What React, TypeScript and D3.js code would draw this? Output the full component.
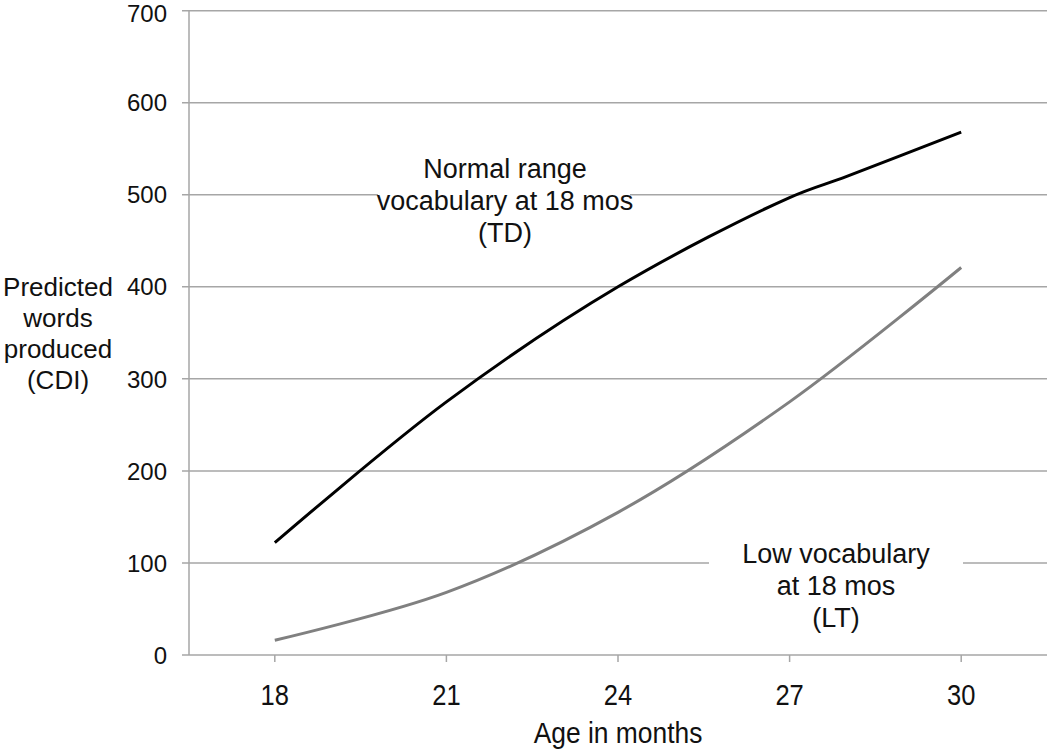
import React from "react";
import * as d3 from "d3";

const tdMonths = [18, 21, 24, 27, 28, 30];
const tdValues = [122, 275, 400, 497, 520, 568];
const ltMonths = [18, 21, 24, 27, 30];
const ltValues = [16, 68, 155, 275, 421];
const xTicks = [18, 21, 24, 27, 30];
const yTicks = [0, 100, 200, 300, 400, 500, 600, 700];
const tdLabel = ["Normal range", "vocabulary at 18 mos", "(TD)"];
const ltLabel = ["Low vocabulary", "at 18 mos", "(LT)"];
const yTitle = ["Predicted", "words", "produced", "(CDI)"];
const xTitle = "Age in months";

const W = 1050;
const H = 751;
const left = 189;
const right = 1047;
const top = 10.7;
const bottom = 655;

export default function App() {
  const x = d3.scaleLinear().domain([16.5, 31.5]).range([left, right]);
  const y = d3.scaleLinear().domain([0, 700]).range([bottom, top]);
  const line = d3
    .line<[number, number]>()
    .x((d) => x(d[0]))
    .y((d) => y(d[1]))
    .curve(d3.curveCatmullRom.alpha(0.5));
  const td = tdMonths.map((m, i) => [m, tdValues[i]] as [number, number]);
  const lt = ltMonths.map((m, i) => [m, ltValues[i]] as [number, number]);
  const font = "'Liberation Sans', Arial, sans-serif";
  const grid = "#a6a6a6";

  return (
    <div style={{ position: "absolute", left: 0, top: 0 }}>
      <svg width={W} height={H} style={{ display: "block", background: "#fff" }}>
        <rect x={0} y={0} width={W} height={H} fill="#fff" />
        {yTicks.map((t) => (
          <line
            key={"g" + t}
            x1={left - 7}
            x2={right}
            y1={y(t)}
            y2={y(t)}
            stroke={grid}
            strokeWidth={1.5}
          />
        ))}
        <line x1={left} x2={left} y1={y(700)} y2={y(0)} stroke={grid} strokeWidth={1.5} />
        {xTicks.map((t) => (
          <line
            key={"xt" + t}
            x1={x(t)}
            x2={x(t)}
            y1={y(0)}
            y2={y(0) + 7}
            stroke={grid}
            strokeWidth={1.5}
          />
        ))}
        {yTicks.map((t) => (
          <text
            key={"yl" + t}
            x={167}
            y={Math.max(y(t), 13)}
            dy="0.36em"
            textAnchor="end"
            fontFamily={font}
            fontSize={24}
            fill="#111"
          >
            {t}
          </text>
        ))}
        {xTicks.map((t) => (
          <text
            key={"xl" + t}
            transform={`translate(${x(t)},705) scale(0.85,1)`}
            textAnchor="middle"
            fontFamily={font}
            fontSize={30}
            fill="#111"
          >
            {t}
          </text>
        ))}
        <text
          transform="translate(618,743) scale(0.88,1)"
          textAnchor="middle"
          fontFamily={font}
          fontSize={30}
          fill="#111"
        >
          {xTitle}
        </text>
        {yTitle.map((s, i) => (
          <text
            key={"yt" + i}
            x={58}
            y={296 + i * 31}
            textAnchor="middle"
            fontFamily={font}
            fontSize={26}
            fill="#111"
          >
            {s}
          </text>
        ))}
        <path d={line(lt) || ""} fill="none" stroke="#808080" strokeWidth={3} />
        <path d={line(td) || ""} fill="none" stroke="#000" strokeWidth={3} />
        <rect x={378} y={148} width={252} height={100} fill="#fff" />
        {tdLabel.map((s, i) => (
          <text
            key={"td" + i}
            x={505}
            y={178 + i * 32}
            textAnchor="middle"
            fontFamily={font}
            fontSize={27}
            fill="#111"
          >
            {s}
          </text>
        ))}
        <rect x={709} y={535} width={254} height={100} fill="#fff" />
        {ltLabel.map((s, i) => (
          <text
            key={"lt" + i}
            x={836}
            y={563 + i * 32}
            textAnchor="middle"
            fontFamily={font}
            fontSize={27}
            fill="#111"
          >
            {s}
          </text>
        ))}
      </svg>
    </div>
  );
}
